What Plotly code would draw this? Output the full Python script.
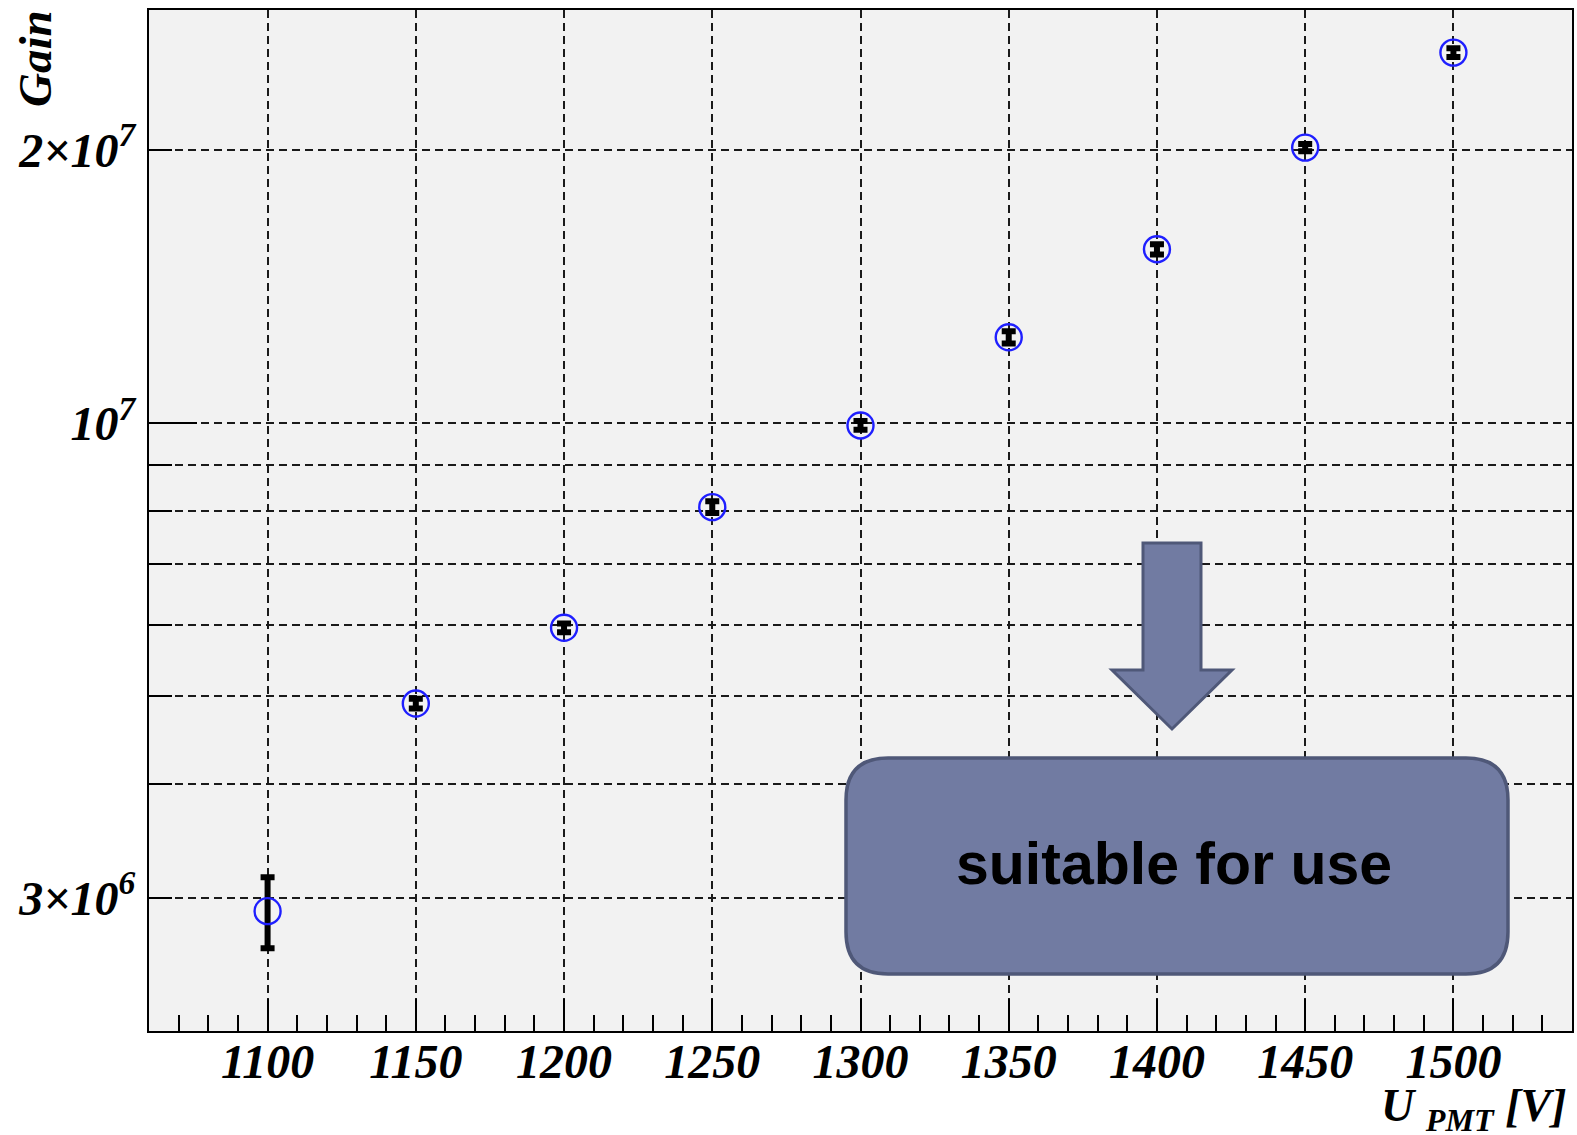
import plotly.graph_objects as go
import numpy as np

# ---- data ----
voltage = [1100, 1150, 1200, 1250, 1300, 1350, 1400, 1450, 1500]
gain = [2.90e6, 4.91e6, 5.95e6, 8.08e6, 9.94e6, 1.243e7, 1.554e7, 2.011e7, 2.559e7]
gain_err = [0.26e6, 0.06e6, 0.065e6, 0.12e6, 0.11e6, 0.19e6, 0.20e6, 0.19e6, 0.28e6]

y_tickvals = [3e6, 1e7, 2e7]
y_ticktext = ["3×10<sup>6</sup>", "10<sup>7</sup>", "2×10<sup>7</sup>"]
y_minorvals = [4e6, 5e6, 6e6, 7e6, 8e6, 9e6]
x_tickvals = [1100, 1150, 1200, 1250, 1300, 1350, 1400, 1450, 1500]

x_range = [1060, 1540]
y_range_lin = [2.14e6, 2.851e7]

# ---- layout geometry (page pixels; body margin removed below) ----
W, H = 1577, 1135
plot_left, plot_right, plot_top, plot_bottom = 149, 1572, 10, 1031
L = plot_left
T = plot_top
R = W - plot_right
B = H - plot_bottom
PW, PH = W - L - R, H - T - B


def px(x):
    return (x - plot_left) / PW


def py(y):
    return (plot_bottom - y) / PH


ylog = [np.log10(v) for v in y_range_lin]


def ypaper(v):
    return (np.log10(v) - ylog[0]) / (ylog[1] - ylog[0])


serif = "Liberation Serif"
sans = "Liberation Sans"
fill_c = "#717ba2"
edge_c = "#4f5878"
grid_c = "#1a1a1a"
griddash = "8px,5px"

fig = go.Figure()
fig.add_trace(go.Scatter(
    x=voltage, y=gain, mode="markers",
    marker=dict(symbol="circle-open", size=26, color="#1f1fff", line=dict(width=2.4, color="#1f1fff")),
    error_y=dict(type="data", array=gain_err, visible=True, color="black", thickness=6, width=7),
    showlegend=False,
))

shapes = []
# long tick at 10^7
shapes.append(dict(type="line", xref="paper", yref="paper", x0=0, x1=px(197),
                   y0=ypaper(1e7), y1=ypaper(1e7), line=dict(color="black", width=2)))

# block arrow
arrow_pts = [(1143, 543), (1201, 543), (1201, 670), (1232, 670), (1172, 729),
             (1112, 670), (1143, 670)]
path = "M " + " L ".join(f"{px(a):.5f},{py(b):.5f}" for a, b in arrow_pts) + " Z"
shapes.append(dict(type="path", xref="paper", yref="paper", path=path,
                   fillcolor=fill_c, line=dict(color=edge_c, width=3), layer="above"))

# rounded box
bx0, bx1, by0, by1, r = 846, 1508, 758, 974, 42


def P(a, b):
    return f"{px(a):.5f},{py(b):.5f}"


rpath = (f"M {P(bx0 + r, by0)} L {P(bx1 - r, by0)} Q {P(bx1, by0)} {P(bx1, by0 + r)} "
         f"L {P(bx1, by1 - r)} Q {P(bx1, by1)} {P(bx1 - r, by1)} "
         f"L {P(bx0 + r, by1)} Q {P(bx0, by1)} {P(bx0, by1 - r)} "
         f"L {P(bx0, by0 + r)} Q {P(bx0, by0)} {P(bx0 + r, by0)} Z")
shapes.append(dict(type="path", xref="paper", yref="paper", path=rpath,
                   fillcolor=fill_c, line=dict(color=edge_c, width=3.5), layer="above"))

annotations = [
    dict(text="suitable for use", xref="paper", yref="paper", x=px(1174), y=py(864),
         xanchor="center", yanchor="middle", showarrow=False,
         font=dict(family=sans, size=59, color="black", weight="bold")),
    dict(text="Gain", xref="paper", yref="paper", x=px(35), y=py(58), textangle=-90,
         xanchor="center", yanchor="middle", showarrow=False,
         font=dict(family=serif, size=47, color="black", weight="bold", style="italic")),
    dict(text="U <sub>PMT</sub> [V]", xref="paper", yref="paper", x=px(1569), y=py(1109),
         xanchor="right", yanchor="middle", showarrow=False,
         font=dict(family=serif, size=46, color="black", weight="bold", style="italic")),
]

tickfont = dict(family=serif, size=48, color="black", weight="bold", style="italic")

fig.update_layout(
    width=W, height=H,
    margin=dict(l=L, r=R, t=T, b=B, pad=0, autoexpand=False),
    paper_bgcolor="white", plot_bgcolor="#f2f2f2",
    shapes=shapes, annotations=annotations,
    xaxis=dict(
        automargin=False,
        range=x_range, tickmode="array", tickvals=x_tickvals,
        ticks="inside", ticklen=32, tickwidth=2, tickcolor="black",
        showline=True, linecolor="black", linewidth=2, mirror=True,
        showgrid=True, gridcolor=grid_c, gridwidth=1.6, griddash=griddash,
        zeroline=False,
        minor=dict(dtick=10, tick0=1060, ticks="inside", ticklen=16, tickwidth=2,
                   tickcolor="black", showgrid=False),
        tickfont=tickfont,
        ticklabelstandoff=-13,
    ),
    yaxis=dict(
        automargin=False,
        type="log", range=ylog, tickmode="array", tickvals=y_tickvals, ticktext=y_ticktext,
        ticks="inside", ticklen=23, tickwidth=2, tickcolor="black",
        showline=True, linecolor="black", linewidth=2, mirror=True,
        showgrid=True, gridcolor=grid_c, gridwidth=1.6, griddash=griddash,
        zeroline=False,
        minor=dict(tickmode="array", tickvals=y_minorvals, ticks="inside", ticklen=23,
                   tickwidth=2, tickcolor="black", showgrid=True, gridcolor=grid_c,
                   gridwidth=1.6, griddash=griddash),
        tickfont=tickfont,
        ticklabelstandoff=2,
    ),
)

fig.write_html(
    "out.html",
    config={"displayModeBar": False},
    post_script="document.body.style.margin='0';document.body.style.overflow='hidden';",
)
